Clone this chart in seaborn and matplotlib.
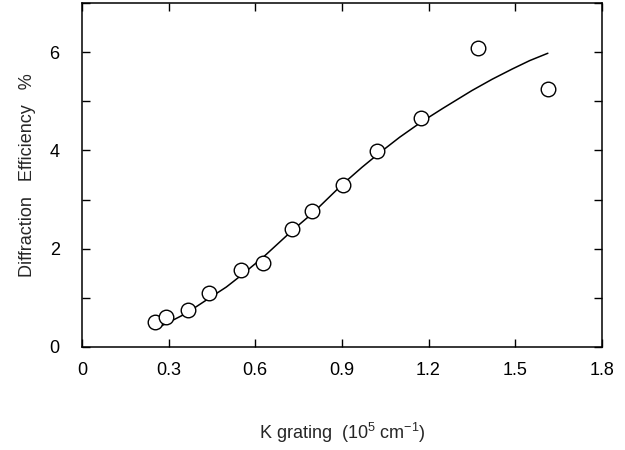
import numpy as np
import pandas as pd
import matplotlib
matplotlib.use("Agg")
import matplotlib.pyplot as plt
import seaborn as sns

# measured points
k_meas = [0.253, 0.290, 0.367, 0.441, 0.550, 0.626, 0.727, 0.796, 0.903, 1.020, 1.173, 1.370, 1.612]
eff_meas = [0.51, 0.60, 0.75, 1.10, 1.56, 1.71, 2.40, 2.76, 3.29, 3.98, 4.67, 6.08, 5.26]

# theory curve
k_fit = [0.258, 0.300, 0.360, 0.440, 0.500, 0.550, 0.630, 0.680, 0.730, 0.800, 0.900,
         0.970, 1.030, 1.100, 1.175, 1.250, 1.350, 1.420, 1.490, 1.550, 1.613]
eff_fit = [0.38, 0.50, 0.68, 0.99, 1.22, 1.45, 1.84, 2.11, 2.38, 2.73, 3.30,
           3.66, 3.95, 4.27, 4.58, 4.86, 5.22, 5.45, 5.66, 5.83, 5.98]

meas = pd.DataFrame({"k": k_meas, "eff": eff_meas})
fit = pd.DataFrame({"k": k_fit, "eff": eff_fit})

sns.set_style("ticks")
plt.rcParams['font.family'] = ['Liberation Sans', 'DejaVu Sans']
plt.rcParams['mathtext.fontset'] = 'custom'
plt.rcParams['mathtext.rm'] = 'Liberation Sans'

fig = plt.figure(figsize=(6.25, 4.5), dpi=100)
ax = fig.add_axes([0.131, 0.229, 0.832, 0.764])

sns.lineplot(data=fit, x="k", y="eff", ax=ax, color="black", linewidth=1.1, sort=False)
sns.scatterplot(data=meas, x="k", y="eff", ax=ax, s=110, marker="o",
                facecolor="white", edgecolor="black", linewidth=1.0, zorder=3)

ax.set_xlim(0, 1.8)
ax.set_ylim(0, 7)
ax.set_xticks([0, 0.3, 0.6, 0.9, 1.2, 1.5, 1.8])
ax.set_xticklabels(["0", "0.3", "0.6", "0.9", "1.2", "1.5", "1.8"])
ax.set_yticks([0, 1, 2, 3, 4, 5, 6, 7])
ax.set_yticklabels(["0", "", "2", "", "4", "", "6", ""])
ax.tick_params(direction="in", length=6, width=1, top=True, right=True,
               labelsize=13, colors="black", pad=11)
ax.tick_params(axis="y", pad=16)
for s in ax.spines.values():
    s.set_linewidth(1.1)
    s.set_color("black")

ax.set_xlabel("K grating  (10$^5$ cm$^{-1}$)", fontsize=13, labelpad=30)
ax.set_ylabel("Diffraction   Efficiency   %", fontsize=13, labelpad=10)

fig.savefig("out.png", dpi=100)
